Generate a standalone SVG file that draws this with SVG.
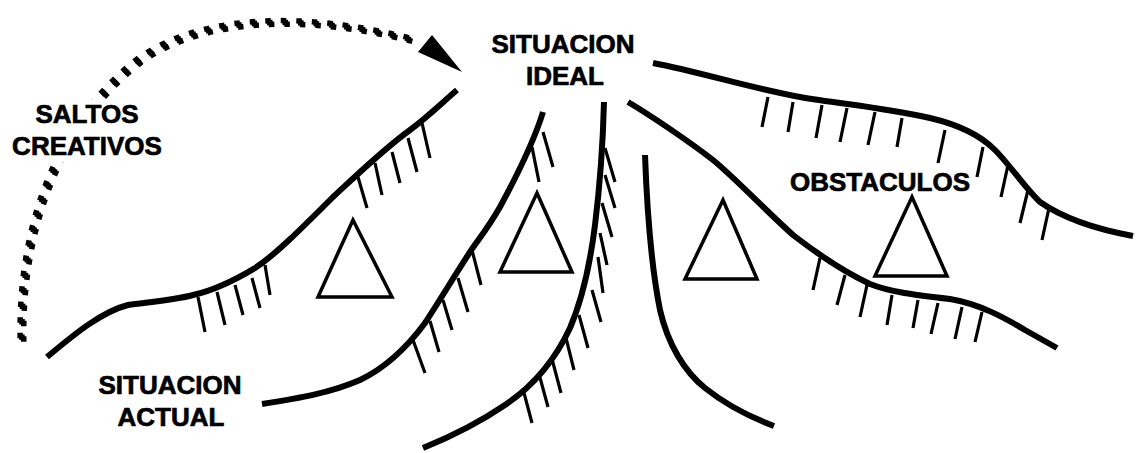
<svg xmlns="http://www.w3.org/2000/svg" width="1137" height="453" viewBox="0 0 1137 453">
  <style>
    .bank { fill: none; stroke: #000; stroke-width: 6; stroke-linecap: butt; stroke-linejoin: round; }
    .hatch { fill: none; stroke: #000; stroke-width: 3.2; stroke-linecap: butt; }
    .tri { fill: none; stroke: #000; stroke-width: 3.5; stroke-linejoin: miter; }
    .jump { fill: none; stroke: #000; stroke-width: 5.5; stroke-dasharray: 5.5 10; }
    .lbl { font-family: "Liberation Sans", Arial, sans-serif; font-weight: bold; font-size: 26px; fill: #000; stroke: #000; stroke-width: 0.7; text-anchor: middle; }
  </style>
  <defs>
    <path id="arc" class="jump" d="M22,340 C20,240 50,130 140,60 C200,18 300,10 420,42"/>
  </defs>
  <rect width="1137" height="453" fill="#fff"/>

  <g id="saltos-creativos-arrow">
    <use href="#arc" transform="translate(-1.8,-1.8)"/>
    <use href="#arc"/>
    <use href="#arc" transform="translate(1.8,1.8)"/>
    <polygon points="418,52 432,35 462,72" fill="#000"/>
  </g>

  <g id="banks">
    <path id="bank-a" class="bank" d="M47,357 C70,338 100,312 128,305 C150,302 175,300 193,295 C215,290 235,280 255,268 C275,255 300,230 333,197 C360,172 385,148 410,130 C430,115 445,100 457,90"/>
    <path id="bank-b" class="bank" d="M543,112 C536,135 520,170 500,207 C488,228 478,240 470,252 C455,275 440,300 425,323 C405,350 385,368 360,380 C330,393 300,398 262,404"/>
    <path id="bank-c" class="bank" d="M604,102 C603,140 600,185 595,225 C590,265 582,300 570,328 C555,360 535,385 505,405 C480,422 455,435 423,448"/>
    <path id="bank-d" class="bank" d="M645,155 C647,210 652,270 660,310 C668,345 685,372 705,388 C725,404 750,417 774,426"/>
    <path id="bank-e" class="bank" d="M628,102 C650,115 690,142 713,160 C735,178 760,205 793,235 C815,252 840,270 870,284 C890,292 915,295 950,299 C980,304 1005,318 1025,330 L1057,348"/>
    <path id="bank-f" class="bank" d="M653,63 C700,72 750,88 800,97 C840,104 880,107 930,118 C960,125 980,135 995,150 C1010,165 1025,188 1040,202 C1060,216 1090,228 1133,236"/>
  </g>

  <g id="hatches">
    <path class="hatch" d="M198,297 L205,332 M217,292 L225,325 M235,285 L243,315 M252,278 L260,308 M265,265 L270,295"/>
    <path class="hatch" d="M358,177 L367,208 M375,163 L382,195 M392,152 L400,183 M408,138 L417,172 M422,123 L430,158"/>
    <path class="hatch" d="M413,340 L425,373 M430,321 L439,352 M443,300 L452,330 M458,278 L468,312 M472,250 L481,285"/>
    <path class="hatch" d="M532,147 L539,182 M543,132 L553,167"/>
    <path class="hatch" d="M605,148 L615,182 M605,175 L615,208 M602,203 L612,237 M600,233 L607,265 M598,257 L603,293 M592,290 L601,322 M579,315 L588,348 M566,338 L574,370 M552,359 L561,393 M539,374 L548,407 M523,389 L532,423"/>
    <path class="hatch" d="M820,258 L813,290 M845,275 L837,305 M867,285 L860,317 M892,295 L887,325 M918,300 L913,328 M938,303 L931,334 M962,307 L955,339 M982,312 L975,342"/>
    <path class="hatch" d="M768,97 L762,127 M793,102 L788,132 M822,105 L816,138 M847,108 L840,142 M875,112 L868,145 M902,118 L897,147 M945,130 L938,163 M983,147 L977,177 M1008,165 L1001,197 M1028,190 L1020,223 M1049,208 L1042,240"/>
  </g>

  <g id="triangles">
    <polygon id="tri-1" class="tri" points="353,220 318,297 392,297"/>
    <polygon id="tri-2" class="tri" points="537,193 500,272 572,272"/>
    <polygon id="tri-3" class="tri" points="723,200 685,279 757,279"/>
    <polygon id="tri-4" class="tri" points="912,197 875,276 947,276"/>
  </g>

  <g id="label-saltos">
    <rect x="6" y="100" width="164" height="62" fill="#fff"/>
    <text class="lbl" x="87" y="123">SALTOS</text>
    <text class="lbl" x="87" y="155">CREATIVOS</text>
  </g>
  <g id="label-ideal">
    <text class="lbl" x="563" y="53">SITUACION</text>
    <text class="lbl" x="565" y="85">IDEAL</text>
  </g>
  <g id="label-actual">
    <text class="lbl" x="170" y="394">SITUACION</text>
    <text class="lbl" x="171" y="426">ACTUAL</text>
  </g>
  <g id="label-obstaculos">
    <text class="lbl" x="880" y="191">OBSTACULOS</text>
  </g>
</svg>
